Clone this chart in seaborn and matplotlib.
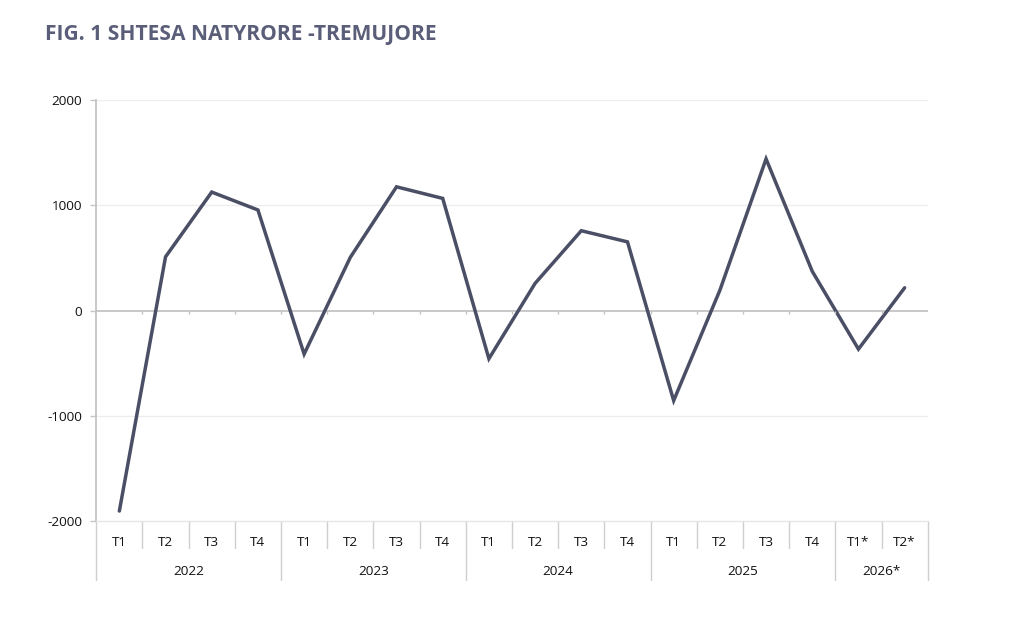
import numpy as np
import pandas as pd
import matplotlib.pyplot as plt
import seaborn as sns

# natural increase by quarter
quarters = ["T1", "T2", "T3", "T4"] * 4 + ["T1*", "T2*"]
years = ["2022", "2023", "2024", "2025", "2026*"]
year_sizes = [4, 4, 4, 4, 2]
values = [-1905, 510, 1125, 955, -414, 505, 1175, 1065,
          -458, 258, 758, 652, -856, 192, 1440, 372, -367, 216]

df = pd.DataFrame({"pos": np.arange(len(values)), "value": values})

sns.set_theme(style="white")
plt.rcParams["font.family"] = ["Open Sans", "DejaVu Sans"]

fig = plt.figure(figsize=(10.24, 6.21), dpi=100)
ax = fig.add_axes([0.094, 0.161, 0.812, 0.678])

line_col = "#4a4f66"
axis_col = "#c4c4c4"
grid_col = "#ededed"

sns.lineplot(data=df, x="pos", y="value", ax=ax, color=line_col, linewidth=2.5,
             solid_joinstyle="miter")

n = len(values)
ax.set_xlim(-0.5, n - 0.5)
ax.set_ylim(-2000, 2000)
ax.set_yticks([-2000, -1000, 0, 1000, 2000])
ax.set_yticklabels(["-2000", "-1000", "0", "1000", "2000"], fontsize=9.7, color="#111111")
for y in [-1000, 1000, 2000]:
    ax.axhline(y, color=grid_col, linewidth=0.9, zorder=0)
ax.axhline(0, color=axis_col, linewidth=1.3, zorder=1)
# small ticks on the zero line at category boundaries
bounds = np.arange(n + 1) - 0.5
ax.vlines(bounds[1:-1], -35, 0, color=axis_col, linewidth=1.0)

ax.set_xticks(np.arange(n))
ax.set_xticklabels(quarters, fontsize=9.7, color="#111111")
ax.tick_params(axis="x", length=0, pad=11)
ax.tick_params(axis="y", length=4, width=1, color=axis_col, left=True, pad=6)
ax.set_xlabel("")
ax.set_ylabel("")

for s in ["top", "right"]:
    ax.spines[s].set_visible(False)
ax.spines["left"].set_color(axis_col)
ax.spines["left"].set_linewidth(1.3)
ax.spines["bottom"].set_color("#e6e6e6")
ax.spines["bottom"].set_linewidth(1.0)

# multi-level category axis
trans = ax.get_xaxis_transform()
year_edges = np.concatenate([[0], np.cumsum(year_sizes)]) - 0.5
for b in bounds:
    if b in year_edges:
        ax.plot([b, b], [0, -0.14], transform=trans, color="#cfcfcf",
                linewidth=1.0, clip_on=False)
    else:
        ax.plot([b, b], [0, -0.064], transform=trans, color="#cfcfcf",
                linewidth=1.0, clip_on=False)
for i, yr in enumerate(years):
    mid = (year_edges[i] + year_edges[i + 1]) / 2
    ax.text(mid, -0.121, yr, transform=trans, ha="center", va="center",
            fontsize=9.7, color="#111111")

fig.text(0.044, 0.944, "FIG. 1 SHTESA NATYRORE -TREMUJORE", fontsize=15.1,
         fontweight="bold", color="#5a5e78", ha="left", va="center")

fig.savefig("out.png", dpi=100)
